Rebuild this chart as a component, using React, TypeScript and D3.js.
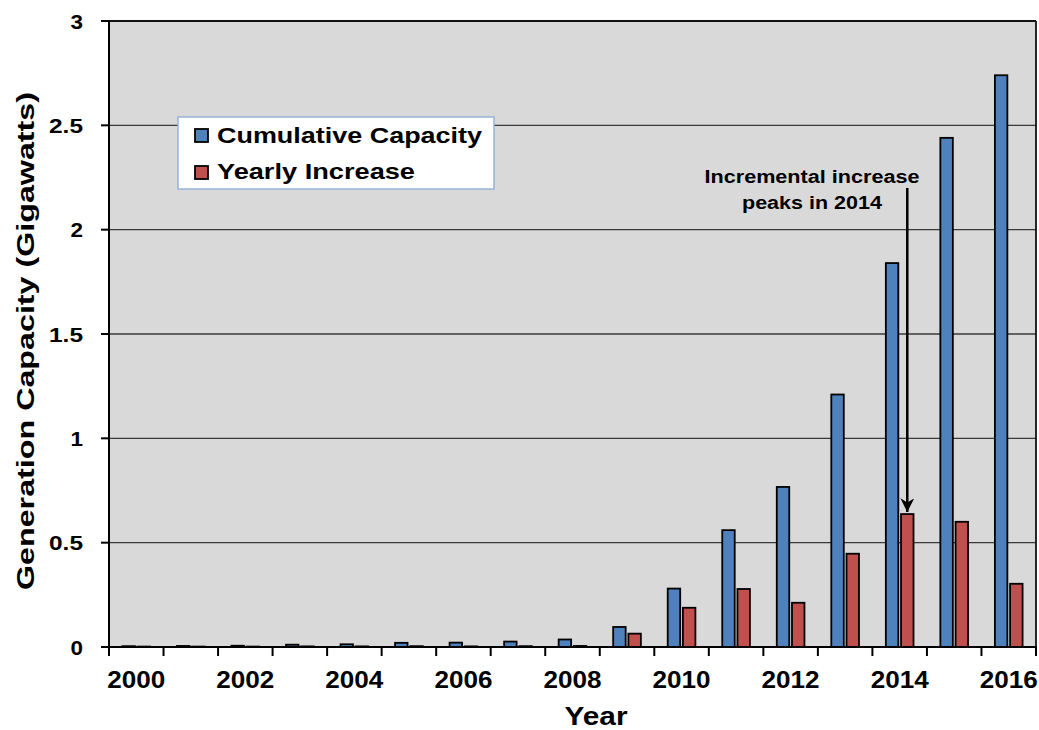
import React from "react";
import * as d3 from "d3";

const years = ["2000","2001","2002","2003","2004","2005","2006","2007","2008","2009","2010","2011","2012","2013","2014","2015","2016"];
const cumulative = [0.004,0.005,0.006,0.011,0.013,0.02,0.021,0.026,0.036,0.096,0.28,0.56,0.767,1.21,1.84,2.44,2.74];
const yearly = [0.002,0.002,0.002,0.003,0.003,0.004,0.003,0.004,0.005,0.064,0.188,0.278,0.212,0.447,0.637,0.6,0.303];
const yTicks = [0, 0.5, 1, 1.5, 2, 2.5, 3];
const seriesNames = ["Cumulative Capacity", "Yearly Increase"];
const colors = ["#4f81bd", "#c0504d"];

const W = 1039, H = 730;
const M = { left: 109, right: 1036, top: 21, bottom: 647 };
const FONT = "'Liberation Sans', Arial, sans-serif";

export default function App() {
  const x = d3.scaleBand<string>().domain(years).range([M.left, M.right]).paddingInner(0).paddingOuter(0);
  const xs = d3.scaleBand<string>().domain(seriesNames).range([0, x.bandwidth()]).paddingInner(0.18).paddingOuter(0.883);
  const y = d3.scaleLinear().domain([0, 3]).range([M.bottom, M.top]);
  const series = [cumulative, yearly];
  const tickPositions = d3.range(years.length + 1).map(i => M.left + i * x.step());

  const arrowX = (x(years[14]) ?? 0) + (xs(seriesNames[1]) ?? 0) + xs.bandwidth() / 2;
  const yLabelWidth = (t: number) => String(t).length === 1 ? 12.5 : 34;
  const legendWidths = [265, 198];
  const xLabelW = 58;

  return (
    <svg width={W} height={H} style={{ position: "absolute", left: 0, top: 0, background: "#fff" }} fontFamily={FONT}>
      <defs>
        <marker id="ah" viewBox="0 0 10 10" refX="10" refY="5" markerWidth="5.5" markerHeight="5.5" orient="auto" markerUnits="strokeWidth">
          <path d="M0,0 L10,5 L0,10 L3,5 z" fill="#000" />
        </marker>
      </defs>
      <rect x={M.left} y={M.top} width={M.right - M.left} height={M.bottom - M.top} fill="#d9d9d9" />
      {yTicks.filter(t => t > 0 && t < 3).map(t => (
        <line key={t} x1={M.left} x2={M.right} y1={y(t)} y2={y(t)} stroke="#3a3a3a" strokeWidth={1.3} />
      ))}
      <line x1={M.left} x2={M.right} y1={M.top} y2={M.top} stroke="#111" strokeWidth={1.8} />
      <line x1={M.right} x2={M.right} y1={M.top} y2={M.bottom} stroke="#111" strokeWidth={1.8} />
      {series.map((vals, si) =>
        vals.map((v, i) => {
          const bx = (x(years[i]) ?? 0) + (xs(seriesNames[si]) ?? 0);
          const top = y(v);
          return (
            <rect key={si + "-" + i} x={bx} y={top} width={xs.bandwidth()} height={Math.max(0, M.bottom - top)}
              fill={colors[si]} stroke="#000" strokeWidth={1.8} />
          );
        })
      )}
      <line x1={M.left} x2={M.left} y1={M.top} y2={M.bottom} stroke="#000" strokeWidth={2} />
      <line x1={M.left - 8} x2={M.right + 1} y1={M.bottom} y2={M.bottom} stroke="#000" strokeWidth={2} />
      {yTicks.map(t => (
        <g key={"yt" + t}>
          <line x1={M.left - 8} x2={M.left} y1={y(t)} y2={y(t)} stroke="#000" strokeWidth={2} />
          <text x={83 - yLabelWidth(t)} y={y(t)} dy="0.36em" fontSize={21} fontWeight="bold" fill="#000"
            textLength={yLabelWidth(t)} lengthAdjust="spacingAndGlyphs">{t}</text>
        </g>
      ))}
      {tickPositions.map((p, i) => (
        <line key={"xt" + i} x1={p} x2={p} y1={M.bottom} y2={M.bottom + 9} stroke="#000" strokeWidth={2} />
      ))}
      {years.map((yr, i) => i % 2 === 0 ? (
        <text key={"xl" + yr} x={(x(yr) ?? 0) + x.bandwidth() / 2 - xLabelW / 2} y={688} fontSize={23} fontWeight="bold" fill="#000"
          textLength={xLabelW} lengthAdjust="spacingAndGlyphs">{yr}</text>
      ) : null)}
      <text x={596 - 31.5} y={725} fontSize={25} fontWeight="bold" fill="#000"
        textLength={63} lengthAdjust="spacingAndGlyphs">Year</text>
      <text transform={`translate(34, ${341 + 249}) rotate(-90)`} fontSize={23} fontWeight="bold" fill="#000"
        textLength={498} lengthAdjust="spacingAndGlyphs">Generation Capacity (Gigawatts)</text>
      <rect x={178} y={117} width={316} height={72} fill="#fff" stroke="#95b3d7" strokeWidth={1.5} />
      {seriesNames.map((s, i) => (
        <g key={"lg" + s}>
          <rect x={195} y={129 + i * 37} width={13} height={13} fill={colors[i]} stroke="#000" strokeWidth={1.8} />
          <text x={217} y={143 + i * 36} fontSize={22} fontWeight="bold" fill="#000"
            textLength={legendWidths[i]} lengthAdjust="spacingAndGlyphs">{s}</text>
        </g>
      ))}
      <text x={812 - 107.5} y={183} fontSize={18} fontWeight="bold" fill="#000"
        textLength={215} lengthAdjust="spacingAndGlyphs">Incremental increase</text>
      <text x={812 - 70} y={209} fontSize={18} fontWeight="bold" fill="#000"
        textLength={140} lengthAdjust="spacingAndGlyphs">peaks in 2014</text>
      <line x1={arrowX} x2={arrowX} y1={188} y2={y(yearly[14]) - 2} stroke="#000" strokeWidth={2.5} markerEnd="url(#ah)" />
    </svg>
  );
}
